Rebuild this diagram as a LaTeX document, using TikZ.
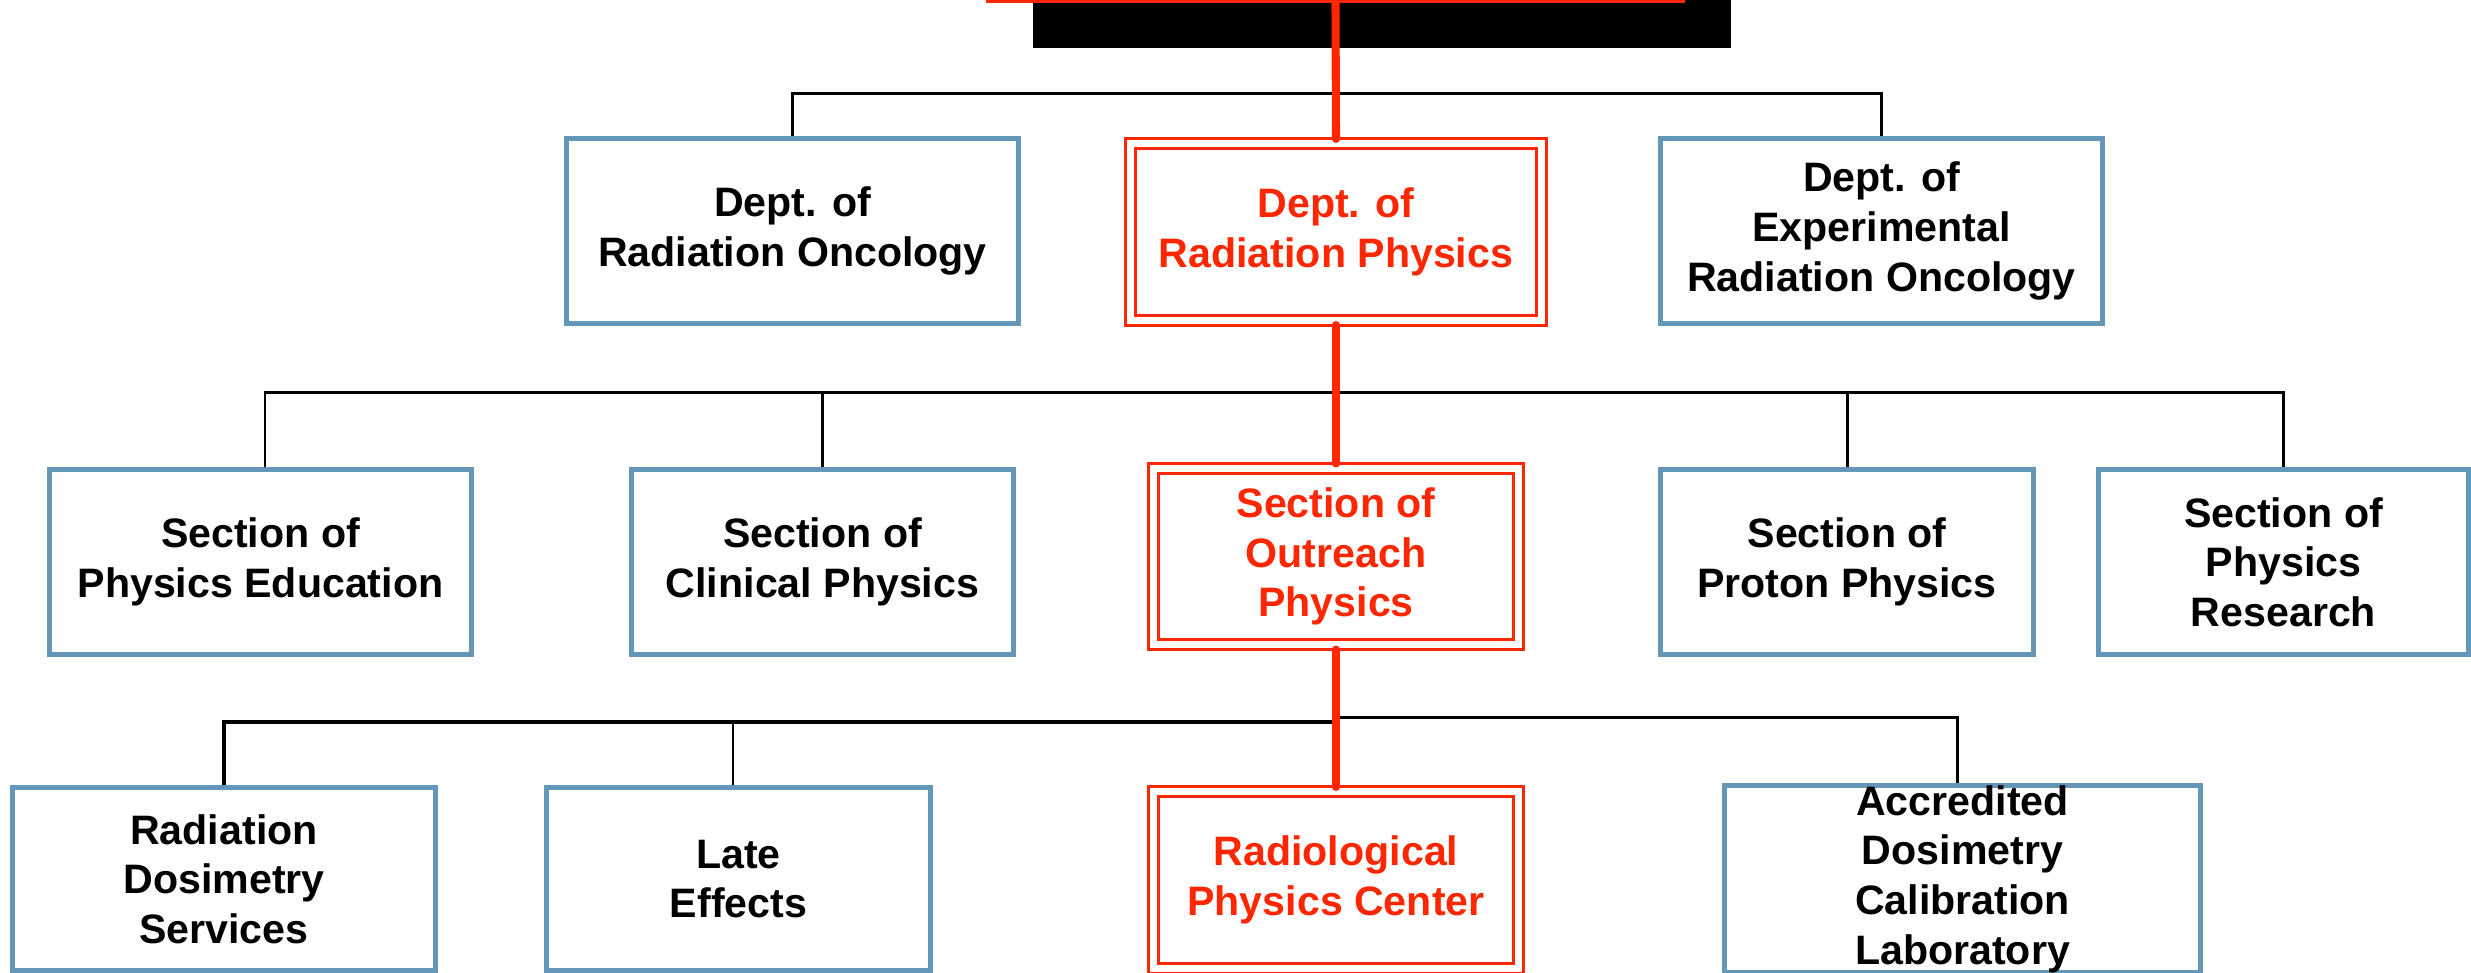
\documentclass[tikz,border=0pt]{standalone}
\usepackage{fontspec}
\setmainfont{Liberation Sans}
\usetikzlibrary{shadows}
\definecolor{orgred}{RGB}{255,38,0}
\definecolor{orgblue}{RGB}{99,150,183}
\tikzset{
  unit_/.style  = {shape=rectangle, draw=orgblue, line width=1.4pt, fill=white,
                   align=center, inner sep=0pt},
  main_/.style  = {shape=rectangle, draw=orgred, line width=0.85pt, double=white,
                   double distance=2pt, fill=white, align=center, inner sep=0pt,
                   outer sep=0.05cm, text=orgred},
  bus_/.style   = {draw, line width=0.85pt},
  spine_/.style = {draw=orgred, line width=2.3pt, line cap=round}
}
\begin{document}
\begin{tikzpicture}
		[
		x                 = 0.01cm,
		y                 = -0.01cm,
		every node/.style = {font=\fontsize{11.7}{14.1}\selectfont\bfseries}
		]
		\useasboundingbox (0,0) rectangle (2471,972);
		\clip (0,0) rectangle (2471,972);
		% top level, only its lower edge shows
		\node [main_, minimum width=6.85cm, minimum height=2cm,
		  drop shadow={shadow xshift=0.455cm, shadow yshift=-0.486cm, shadow scale=1.019,
		    opacity=1, fill=black}]
		  (div) at (1335.5,-103.5) {};
		% departments
		\node [unit_, minimum width=4.51cm, minimum height=1.85cm] (radonc) at (792.5,231)
		  {Dept. of\\Radiation Oncology};
		\node [main_, minimum width=4.1cm, minimum height=1.76cm] (radphys) at (1336,232)
		  {Dept. of\\Radiation Physics};
		\node [unit_, minimum width=4.41cm, minimum height=1.85cm] (exprad) at (1881.5,231)
		  {Dept. of\\Experimental\\Radiation Oncology};
		% sections
		\node [unit_, minimum width=4.21cm, minimum height=1.84cm] (physedu) at (260.5,562)
		  {Section of\\Physics Education};
		\node [unit_, minimum width=3.81cm, minimum height=1.84cm] (clinphys) at (822.5,562)
		  {Section of\\Clinical Physics};
		\node [main_, minimum width=3.64cm, minimum height=1.76cm] (outreach) at (1336,556.5)
		  {Section of\\Outreach\\Physics};
		\node [unit_, minimum width=3.72cm, minimum height=1.84cm] (proton) at (1847,562)
		  {Section of\\Proton Physics};
		\node [unit_, minimum width=3.69cm, minimum height=1.84cm] (research) at (2283.5,562)
		  {Section of\\Physics\\Research};
		% groups
		\node [unit_, minimum width=4.22cm, minimum height=1.82cm] (rds) at (224,879)
		  {Radiation\\Dosimetry\\Services};
		\node [unit_, minimum width=3.83cm, minimum height=1.82cm] (late) at (738.5,879)
		  {Late\\Effects};
		\node [main_, minimum width=3.64cm, minimum height=1.76cm] (rpc) at (1336,880)
		  {Radiological\\Physics Center};
		\node [unit_, minimum width=4.75cm, minimum height=1.82cm] (adcl) at (1962.5,879)
		  {Accredited\\Dosimetry\\Calibration\\Laboratory};
		% buses
		\coordinate (bus1) at (1336,93);
		\coordinate (bus2) at (1336,392);
		\coordinate (bus3l) at (1336,722);
		\coordinate (bus3r) at (1336,717);
		\draw [bus_] (radonc.north) |- (bus1) -| (exprad.north);
		\draw [bus_] ([xshift=0.045cm]physedu.north) |- (bus2) -| (research.north);
		\draw [bus_] (clinphys.north) -- (clinphys.north |- bus2);
		\draw [bus_] (proton.north) -- (proton.north |- bus2);
		\draw [bus_, line width=1.3pt] (rds.north) |- (bus3l);
		\draw [bus_] ([xshift=-0.055cm]late.north) -- ([xshift=-0.055cm]late.north |- bus3l);
		\draw [bus_] (bus3r) -| ([xshift=-0.055cm]adcl.north);
		% red line of command
		\draw [spine_] (div.south) -- (radphys.north);
		\draw [spine_] (radphys.south) -- (outreach.north);
		\draw [spine_] (outreach.south) -- (rpc.north);
\end{tikzpicture}
\end{document}
